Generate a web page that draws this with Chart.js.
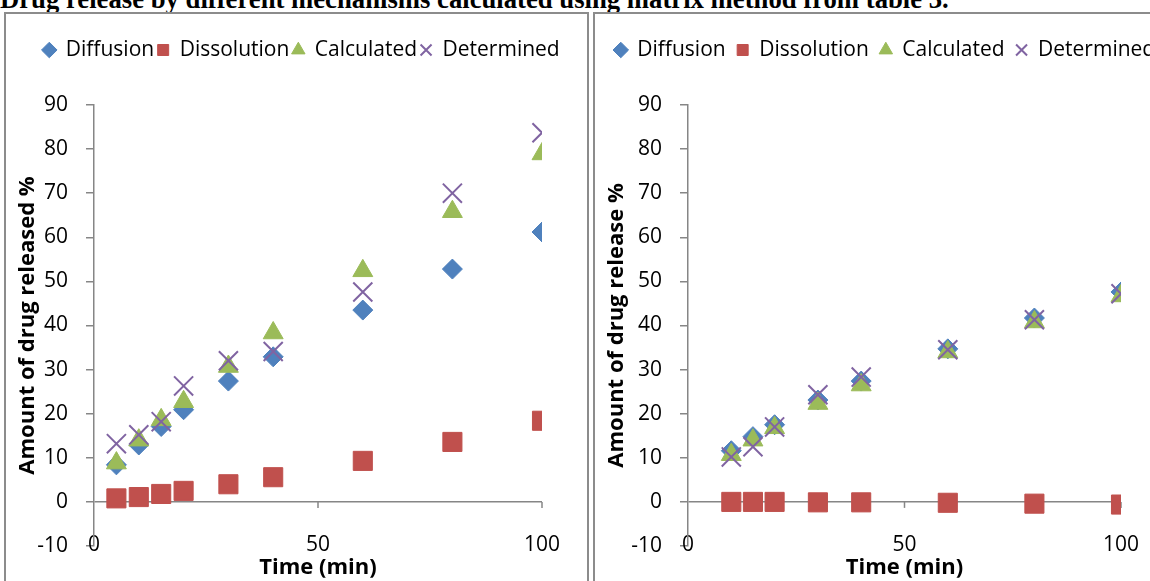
<!DOCTYPE html>
<html>
<head>
<meta charset="utf-8">
<script src="https://cdn.jsdelivr.net/npm/chart.js@4"></script>
<style>
body{margin:0;width:1150px;height:581px;overflow:hidden;background:#fff;position:relative}
.title{position:absolute;left:0;top:-14px;font:bold 26.7px/26.7px "Liberation Serif";white-space:nowrap;color:#000}
.panel{position:absolute;top:12px;height:600px;border:2px solid #8c8c8c;box-sizing:border-box}
canvas{position:absolute}
</style>
</head>
<body>
<div class="title">Drug release by different mechanisms calculated using matrix method from table 3.</div>
<div class="panel" style="left:4px;width:585px"></div>
<div class="panel" style="left:593px;width:600px"></div>
<canvas id="leftChart" width="580" height="567" style="left:6px;top:14px"></canvas>
<canvas id="rightChart" width="620" height="567" style="left:575px;top:14px"></canvas>
<script>
const seriesNames=['Diffusion','Dissolution','Calculated','Determined'];
const seriesColors=['#4F81BD','#C0504D','#9BBB59','#8064A2'];

const leftTime=[5,10,15,20,30,40,60,80,100];
const leftDiffusion=[8.4,12.9,17.1,20.9,27.4,32.9,43.5,52.8,61.2];
const leftDissolution=[0.8,1.1,1.8,2.5,4.0,5.6,9.3,13.6,18.4];
const leftCalculated=[8.8,14.0,18.6,22.7,30.7,38.3,52.4,65.8,78.9];
const leftDetermined=[13.2,15.2,18.2,26.3,32.0,34.1,47.6,70.0,83.7];

const rightTime=[10,15,20,30,40,60,80,100];
const rightDiffusion=[11.6,14.8,17.5,23.1,27.4,34.7,41.7,47.6];
const rightDissolution=[0,0,0,-0.1,-0.1,-0.2,-0.4,-0.6];
const rightCalculated=[10.7,14.0,16.8,22.3,26.5,34.0,40.8,46.7];
const rightDetermined=[10.2,12.5,17.0,24.3,28.3,34.5,41.3,47.2];

const yMin=-10, yMax=90, yStep=10;
const xMin=0, xMax=100, xStep=50;

Chart.defaults.font.family='"Open Sans"';
Chart.defaults.color='#000';

// small downward tick marks on the y=0 line, like the excel original
const xTickMarks={
    id:'xTickMarks',
    beforeDatasetsDraw(chart){
        const {ctx,scales:{x,y}}=chart;
        const y0=y.getPixelForValue(0);
        ctx.save();
        ctx.strokeStyle='#868686';
        ctx.lineWidth=1.5;
        x.ticks.forEach(t=>{
            if(t.value===0)return;
            const px=x.getPixelForValue(t.value);
            ctx.beginPath();
            ctx.moveTo(px,y0);
            ctx.lineTo(px,y0+6);
            ctx.stroke();
        });
        ctx.restore();
    }
};

const pointStyles=['rectRot','rect','triangle','crossRot'];
const pointRadii=[10,13.5,11.5,13.5];

const makeChart=(id,time,series,yTitle,cfg)=>{
    const datasets=seriesNames.map((name,i)=>({
        label:name,
        data:time.map((t,j)=>({x:t,y:series[i][j]})),
        pointStyle:pointStyles[i],
        pointRadius:pointRadii[i],
        pointHoverRadius:pointRadii[i],
        backgroundColor:seriesColors[i],
        borderColor:seriesColors[i],
        borderWidth:i===3?2:1,
        showLine:false,
        order:3-i
    }));
    return new Chart(document.getElementById(id),{
        type:'scatter',
        data:{datasets},
        plugins:[xTickMarks],
        options:{
            responsive:false,
            animation:false,
            layout:{padding:{left:cfg.padLeft,right:0,top:cfg.legendTop,bottom:0}},
            plugins:{
                legend:{
                    position:'top',
                    align:'center',
                    weight:3000,
                    labels:{
                        usePointStyle:true,
                        boxWidth:12,
                        boxHeight:11,
                        padding:cfg.legendPad,
                        font:{size:21},
                        color:'#000',
                        sort:(a,b)=>a.datasetIndex-b.datasetIndex
                    }
                },
                // empty title used only as a spacer under the legend
                title:{display:true,text:'',weight:2000,font:{size:1},padding:{top:cfg.spacer,bottom:0}},
                tooltip:{enabled:false}
            },
            scales:{
                x:{
                    type:'linear',
                    min:xMin,max:xMax,
                    border:{display:false},
                    grid:{display:false,drawTicks:false},
                    ticks:{stepSize:xStep,mirror:true,padding:-12,font:{size:21},color:'#000',maxRotation:0},
                    title:{display:true,text:'Time (min)',font:{size:22,weight:'bold'},color:'#000',padding:{top:0,bottom:0}},
                    afterFit:s=>{s.height=35;}
                },
                y:{
                    min:yMin,max:yMax,
                    border:{display:true,color:'#868686',width:1.5},
                    grid:{
                        color:c=>c.tick&&c.tick.value===0?'#868686':'rgba(0,0,0,0)',
                        lineWidth:1.5,
                        tickColor:'#868686',
                        tickLength:8
                    },
                    ticks:{stepSize:yStep,padding:18,font:{size:21},color:'#000'},
                    title:{display:true,text:yTitle,font:{size:22,weight:'bold'},color:'#000',padding:{top:cfg.titlePad,bottom:0}},
                    afterFit:s=>{s.width=cfg.yWidth;}
                },
                // blank box on the right so the legend keeps the full width
                pad:{
                    type:'linear',axis:'y',position:'right',
                    border:{display:false},
                    grid:{display:false,drawTicks:false},
                    ticks:{display:false},
                    afterFit:s=>{s.width=cfg.padRight;}
                }
            }
        }
    });
};

makeChart('leftChart',leftTime,[leftDiffusion,leftDissolution,leftCalculated,leftDetermined],
    'Amount of drug released %',{padLeft:11,padRight:44,legendTop:22.5,legendPad:3,spacer:33.3,titlePad:-2.2,yWidth:77});
makeChart('rightChart',rightTime,[rightDiffusion,rightDissolution,rightCalculated,rightDetermined],
    'Amount of drug release %',{padLeft:0,padRight:74,legendTop:14.5,legendPad:11,spacer:33.3,titlePad:28.8,yWidth:113});
</script>
</body>
</html>
